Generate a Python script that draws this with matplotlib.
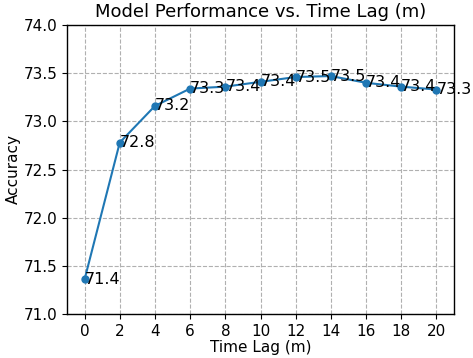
import matplotlib
matplotlib.use('Agg')
import matplotlib.pyplot as plt

time_lag = [0, 2, 4, 6, 8, 10, 12, 14, 16, 18, 20]
accuracy = [71.36, 72.78, 73.16, 73.34, 73.36, 73.41, 73.46, 73.47, 73.40, 73.36, 73.33]
y_ticks = [71.0, 71.5, 72.0, 72.5, 73.0, 73.5, 74.0]

fig = plt.figure(figsize=(4.73, 3.58), dpi=100)
ax = fig.add_axes([67 / 473, 44 / 358, 387 / 473, 289 / 358])

ax.plot(time_lag, accuracy, marker='o', markersize=5, color='#1f77b4', linewidth=1.5)
for x, y in zip(time_lag, accuracy):
    ax.text(x, y, f'{y:.1f}', fontsize=11.5, ha='left', va='center')

ax.set_title('Model Performance vs. Time Lag (m)', fontsize=13)
ax.set_xlabel('Time Lag (m)', fontsize=11, labelpad=1)
ax.set_ylabel('Accuracy', fontsize=11, labelpad=2)
ax.set_xticks(time_lag)
ax.set_yticks(y_ticks)
ax.set_ylim(71.0, 74.0)
ax.set_xlim(-1, 21)
ax.tick_params(labelsize=11)
ax.grid(True, linestyle='--', color='#b0b0b0', linewidth=0.8)
for s in ax.spines.values():
    s.set_linewidth(1.0)

fig.savefig('out.png', dpi=100)
